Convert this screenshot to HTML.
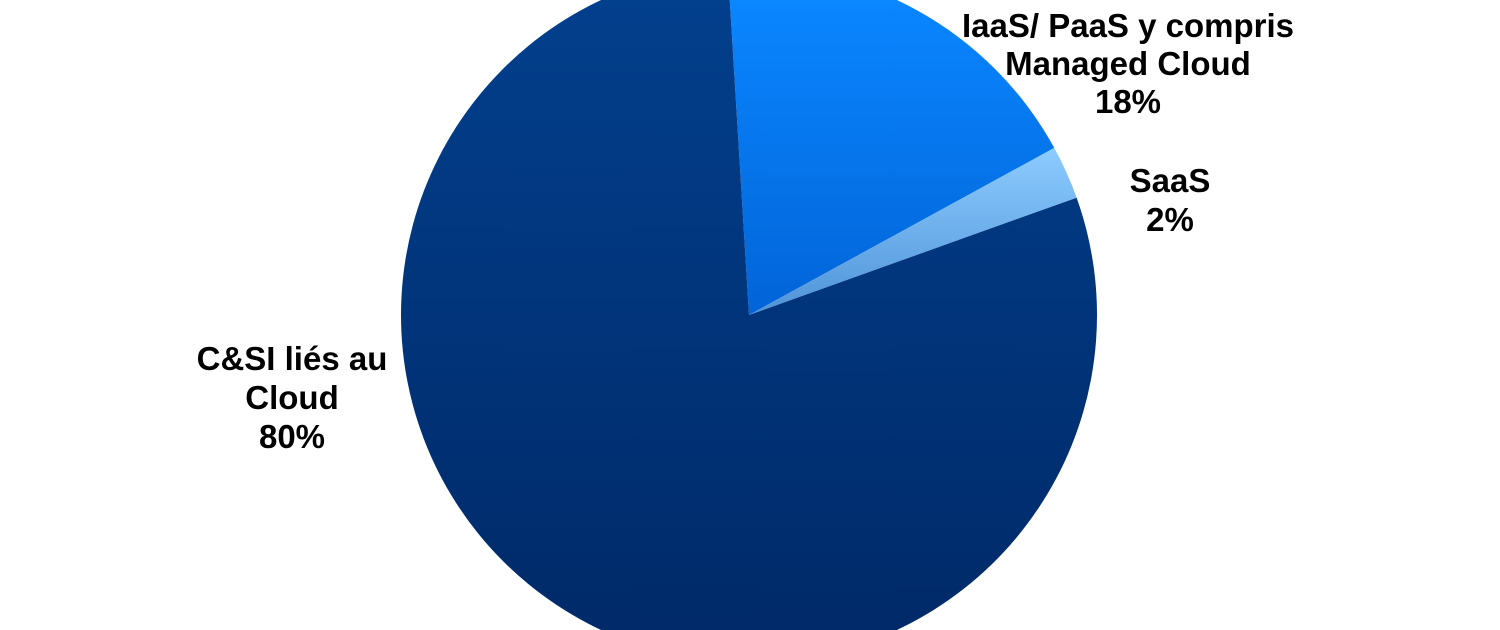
<!DOCTYPE html>
<html><head><meta charset="utf-8"><style>
html,body{margin:0;padding:0;background:#fff;width:1500px;height:630px;overflow:hidden}
svg{display:block;overflow:hidden}
text{font-family:"Liberation Sans",Arial,sans-serif;font-weight:bold;font-size:33px;fill:#000}
</style></head><body>
<svg id="chart" width="1500" height="630" viewBox="0 0 1500 630">
<defs>
<linearGradient id="gNavy" gradientUnits="userSpaceOnUse" x1="0" y1="0" x2="0" y2="630"><stop offset="0" stop-color="#023f8c"/><stop offset="1" stop-color="#002a69"/></linearGradient>
<linearGradient id="gBlue" gradientUnits="userSpaceOnUse" x1="0" y1="0" x2="0" y2="315"><stop offset="0" stop-color="#0a86ff"/><stop offset="1" stop-color="#0264d8"/></linearGradient>
<linearGradient id="gLight" gradientUnits="userSpaceOnUse" x1="0" y1="150" x2="0" y2="315"><stop offset="0" stop-color="#8ccbff"/><stop offset="1" stop-color="#4f93d8"/></linearGradient>
</defs>
<g id="slices"></g>
<g><text x="1128" y="37" text-anchor="middle">IaaS/ PaaS y compris</text><text x="1128" y="75" text-anchor="middle">Managed Cloud</text><text id="v0" x="1128" y="113" text-anchor="middle">18%</text></g>
<g><text x="1170" y="192" text-anchor="middle">SaaS</text><text id="v1" x="1170" y="231" text-anchor="middle">2%</text></g>
<g><text x="292" y="370" text-anchor="middle">C&amp;SI liés au</text><text x="292" y="409" text-anchor="middle">Cloud</text><text id="v2" x="292" y="448" text-anchor="middle">80%</text></g>
</svg>
<script>
const categories = ["IaaS/ PaaS y compris Managed Cloud", "SaaS", "C&SI liés au Cloud"];
const values = [18, 2.5, 79.5];
const printed = ["18%", "2%", "80%"];
const fills = ["url(#gBlue)", "url(#gLight)", "url(#gNavy)"];
const cx = 749, cy = 315, r = 348, startDeg = -3.5;
const total = values.reduce((a, b) => a + b, 0);
const g = document.getElementById('slices');
let a0 = startDeg;
function pt(deg) { const t = deg * Math.PI / 180; return [cx + r * Math.sin(t), cy - r * Math.cos(t)]; }
values.forEach((v, i) => {
  const a1 = a0 + v / total * 360;
  const p0 = pt(a0), p1 = pt(a1);
  const large = (a1 - a0) > 180 ? 1 : 0;
  const path = document.createElementNS('http://www.w3.org/2000/svg', 'path');
  path.setAttribute('d', `M${cx},${cy} L${p0[0]},${p0[1]} A${r},${r} 0 ${large} 1 ${p1[0]},${p1[1]} Z`);
  path.setAttribute('fill', fills[i]);
  
  
  g.appendChild(path);
  document.getElementById('v' + i).textContent = printed[i];
  a0 = a1;
});
</script>
</body></html>
